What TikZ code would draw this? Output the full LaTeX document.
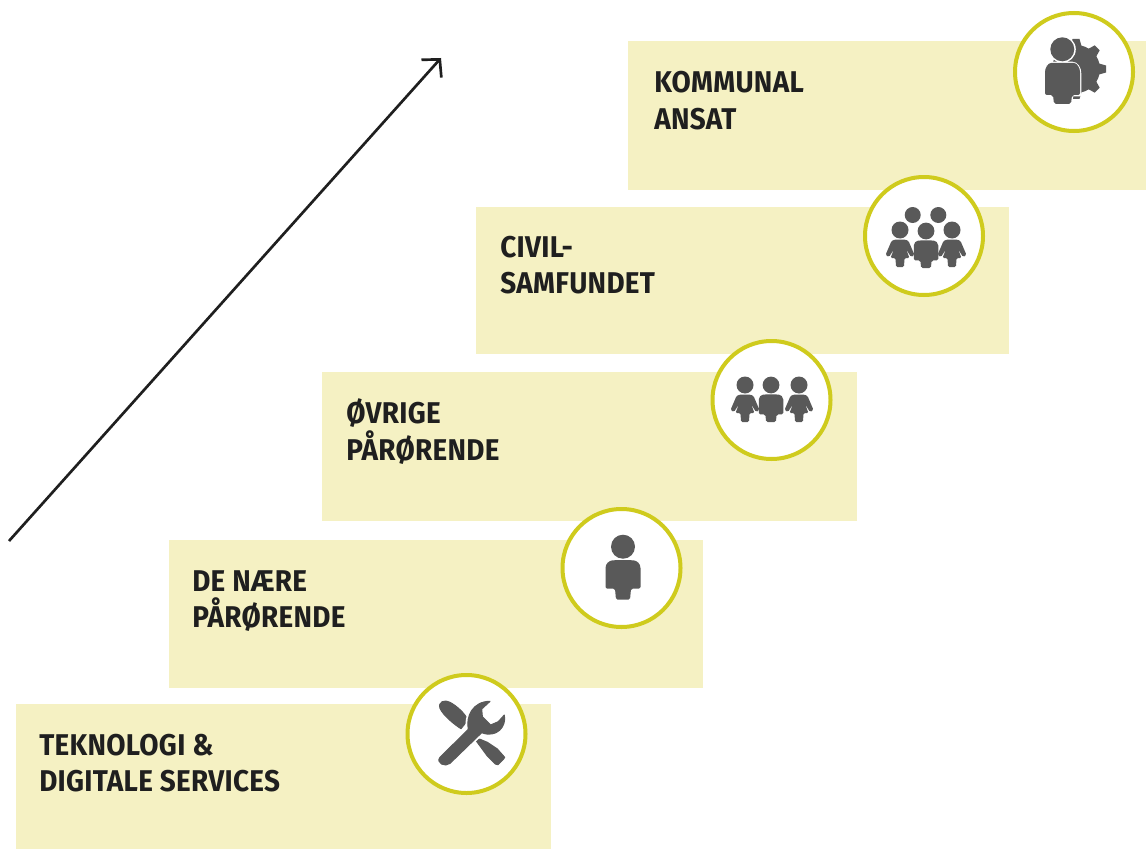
\documentclass[tikz,border=0pt]{standalone}
\usepackage{fontspec}
\setmainfont{Fira Sans}[UprightFont=* Bold,BoldFont=* Bold,FakeStretch=0.93,LetterSpace=1]
\usetikzlibrary{arrows.meta}
\definecolor{boxfill}{HTML}{F5F1C3}
\definecolor{ringcol}{HTML}{CFCB1D}
\definecolor{iconcol}{HTML}{595959}
\definecolor{inkcol}{HTML}{1F1F1F}
\tikzset{
  stepbox/.style={fill=boxfill,draw=none,anchor=north west,inner sep=0pt,outer sep=0pt},
  ring/.style={circle,fill=white,draw=ringcol,line width=3pt,minimum size=88.5pt,inner sep=0pt},
  label/.style={anchor=base west,inner sep=0pt,text=inkcol,font=\fontsize{22.5pt}{27pt}\selectfont},
  icon/.style={fill=iconcol,draw=none},
  softicon/.style={fill=iconcol,draw=iconcol,line width=.8pt,line join=round},
  zoomed/.style={x=.25pt,y=-.25pt},
  pics/malefig/.style={code={
    \fill[icon] (0,0) circle[radius=12];
    \fill[icon,rounded corners=1.2pt] (-9,13.5) .. controls (-14,14) and (-17.5,17) .. (-17.5,23) -- (-17.5,42) -- (-8,42) -- (-7,53) -- (7,53) -- (8,42) -- (17.5,42) -- (17.5,23) .. controls (17.5,17) and (14,14) .. (9,13.5) -- cycle;
  }},
  pics/femalefig/.style={code={
    \fill[icon] (0,0) circle[radius=8.5];
    \fill[icon,rounded corners=1pt] (-5,9.5) -- (5,9.5) -- (8.5,11) -- (14.5,25) -- (11,27) -- (6,19) -- (9.5,28) -- (4.5,28) -- (4,37) -- (-4,37) -- (-4.5,28) -- (-9.5,28) -- (-6,19) -- (-11,27) -- (-14.5,25) -- (-8.5,11) -- cycle;
  }},
}
\begin{document}
\begin{tikzpicture}[x=.75pt,y=-.75pt]
\useasboundingbox (0,0) rectangle (1146,849);
\fill[white] (0,0) rectangle (1146,849);
% arrow
\coordinate (arrowstart) at (9,541);
\coordinate (arrowend) at (441,58);
\draw[inkcol,line width=2pt,-{Straight Barb[length=9.4pt,width=20pt,line width=2pt]}] (arrowstart) -- (arrowend);
% boxes
\node[stepbox,minimum width=401.25pt,minimum height=108.75pt] (box1) at (16,704) {};
\node[stepbox,minimum width=400.5pt,minimum height=111pt] (box2) at (169,540) {};
\node[stepbox,minimum width=401.25pt,minimum height=111.75pt] (box3) at (322,372) {};
\node[stepbox,minimum width=399.75pt,minimum height=110.25pt] (box4) at (476,207) {};
\node[stepbox,minimum width=388.5pt,minimum height=111.75pt] (box5) at (628,41) {};
% rings
\node[ring] (ring1) at (466.5,734) {};
\node[ring] (ring2) at (621.5,568) {};
\node[ring] (ring3) at (771.5,400) {};
\node[ring] (ring4) at (924,236) {};
\node[ring] (ring5) at (1074,72) {};
% labels
\node[label] (t1a) at (39,755) {TEKNOLOGI \&};
\node[label] (t1b) at (39,791) {DIGITALE SERVICES};
\node[label] (t2a) at (192,591) {DE NÆRE};
\node[label] (t2b) at (192,627) {PÅRØRENDE};
\node[label] (t3a) at (346,423) {ØVRIGE};
\node[label] (t3b) at (346,460) {PÅRØRENDE};
\node[label] (t4a) at (500,257) {CIVIL-};
\node[label] (t4b) at (500,293) {SAMFUNDET};
\node[label] (t5a) at (654,93) {KOMMUNAL};
\node[label] (t5b) at (654,129) {ANSAT};
% tools icon
\begin{scope}[shift={(400,670)},zoomed]
  \fill[softicon] (120,115) .. controls (113,95) and (135,88) .. (150,97) .. controls (172,109) and (194,130) .. (204,150) -- (183,176) .. controls (165,165) and (130,137) .. (120,115) -- cycle;
  \fill[softicon] (238,207) -- (262,217) -- (292,237) -- (314,262) -- (310,268) -- (294,284) -- (286,282) -- (262,258) -- (243,232) -- (229,213) -- cycle;
  \path[fill=white,draw=white,line width=3.5pt,line join=round] (120,262) -- (205,178) .. controls (197,140) and (218,94) .. (270,94) -- (245,117) -- (247,140) -- (272,165) -- (295,155) -- (313,135) .. controls (320,170) and (290,205) .. (245,188) -- (150,280) .. controls (135,293) and (107,278) .. (120,262) -- cycle;
  \fill[softicon] (120,262) -- (205,178) .. controls (197,140) and (218,94) .. (270,94) -- (245,117) -- (247,140) -- (272,165) -- (295,155) -- (313,135) .. controls (320,170) and (290,205) .. (245,188) -- (150,280) .. controls (135,293) and (107,278) .. (120,262) -- cycle;
\end{scope}
% single person
\pic at (623,546.7) {malefig};
% three persons
\pic at (745,385) {femalefig};
\pic[scale=.7] at (771,385) {malefig};
\pic at (799,385) {femalefig};
% five persons
\fill[icon] (912.7,215) circle[radius=8];
\fill[icon] (938.3,215) circle[radius=8];
\pic at (900,230) {femalefig};
\pic[scale=.7] at (926,231) {malefig};
\pic at (952,230) {femalefig};
% employee with gear
\begin{scope}[shift={(1076,69)}]
  \fill[icon] (0,0) circle[radius=24];
  \foreach \a in {0,45,...,315}
    \fill[icon,rotate=\a] (-5.5,-23) -- (-3.5,-30) -- (3.5,-30) -- (5.5,-23) -- cycle;
\end{scope}
\coordinate (headc) at (1062.3,49.3);
\fill[white] (headc) circle[radius=13.5];
\path[fill=white,draw=white,line width=2pt,line join=round] (1053,63) .. controls (1048,63) and (1045,68) .. (1045,74) -- (1045,95) -- (1053,95) -- (1054,104) -- (1071,104) -- (1072,95) -- (1080,95) -- (1080,74) .. controls (1080,68) and (1077,63) .. (1072,63) -- cycle;
\fill[icon] (headc) circle[radius=12];
\fill[icon,rounded corners=1.5pt] (1053,63) .. controls (1048,63) and (1045,68) .. (1045,74) -- (1045,95) -- (1053,95) -- (1054,104) -- (1071,104) -- (1072,95) -- (1080,95) -- (1080,74) .. controls (1080,68) and (1077,63) .. (1072,63) -- cycle;
\end{tikzpicture}
\end{document}
